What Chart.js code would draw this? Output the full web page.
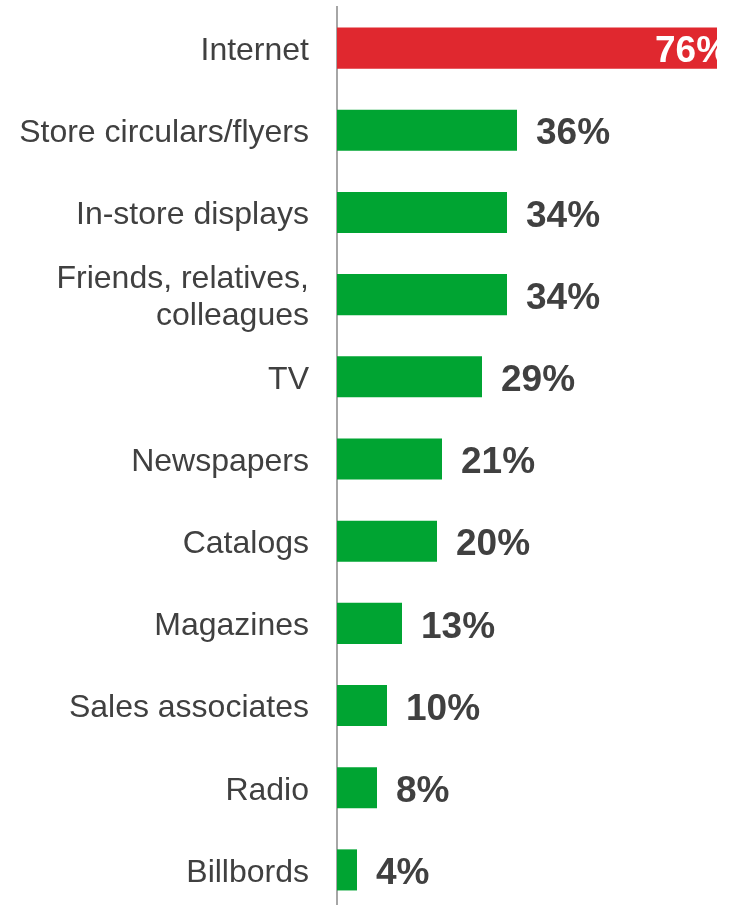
<!DOCTYPE html>
<html>
<head>
<meta charset="utf-8">
<script src="https://cdn.jsdelivr.net/npm/chart.js@4"></script>
<style>
  html, body { margin: 0; padding: 0; background: #ffffff; overflow: hidden; }
  #wrap { width: 732px; height: 911px; }
</style>
</head>
<body>
<div id="wrap"><canvas id="sumber"></canvas></div>
<script>
// Data sumber informasi belanja (persen)
const kategori = [
  'Internet',
  'Store circulars/flyers',
  'In-store displays',
  ['Friends, relatives,', 'colleagues'],
  'TV',
  'Newspapers',
  'Catalogs',
  'Magazines',
  'Sales associates',
  'Radio',
  'Billbords'
];
const nilai = [76, 36, 34, 34, 29, 21, 20, 13, 10, 8, 4];
const warnaBar = ['#E0282F', '#00A432', '#00A432', '#00A432', '#00A432', '#00A432',
  '#00A432', '#00A432', '#00A432', '#00A432', '#00A432'];

// Label persen di ujung bar; kalau tidak muat, taruh di dalam bar (putih)
const labelNilai = {
  id: 'labelNilai',
  afterDatasetsDraw(chart) {
    const ctx = chart.ctx;
    const area = chart.chartArea;
    const meta = chart.getDatasetMeta(0);
    ctx.save();
    ctx.beginPath();
    ctx.rect(0, 0, area.right, chart.height);
    ctx.clip();
    ctx.font = 'bold 37px "Liberation Sans", Arial, sans-serif';
    ctx.textBaseline = 'middle';
    ctx.textAlign = 'left';
    meta.data.forEach((bar, i) => {
      const teks = nilai[i] + '%';
      const w = ctx.measureText(teks).width;
      if (bar.x + 19 + w > area.right) {
        ctx.fillStyle = '#ffffff';
        ctx.fillText(teks, bar.x - 62, bar.y + 4);
      } else {
        ctx.fillStyle = '#404040';
        ctx.fillText(teks, bar.x + 19, bar.y + 4);
      }
    });
    ctx.restore();
  }
};

const ctx = document.getElementById('sumber').getContext('2d');
new Chart(ctx, {
  type: 'bar',
  data: {
    labels: kategori,
    datasets: [{
      data: nilai,
      backgroundColor: warnaBar,
      borderWidth: 0,
      categoryPercentage: 0.5,
      barPercentage: 1
    }]
  },
  options: {
    indexAxis: 'y',
    responsive: true,
    maintainAspectRatio: false,
    devicePixelRatio: 1,
    animation: false,
    layout: { padding: { top: 7, right: 15, bottom: 0, left: 0 } },
    plugins: {
      legend: { display: false },
      tooltip: { enabled: false }
    },
    scales: {
      x: { display: false, min: 0, max: 76 },
      y: {
        afterFit(scale) {
          scale.width = 337;
          scale.paddingTop = 0;
          scale.paddingBottom = 0;
        },
        grid: { display: false, drawTicks: false },
        border: { display: true, color: '#A6A6A6', width: 2 },
        ticks: {
          padding: 28,
          labelOffset: 3,
          color: '#404040',
          font: { family: '"Liberation Sans", Arial, sans-serif', size: 32, lineHeight: 1.13 }
        }
      }
    }
  },
  plugins: [labelNilai]
});
</script>
</body>
</html>
